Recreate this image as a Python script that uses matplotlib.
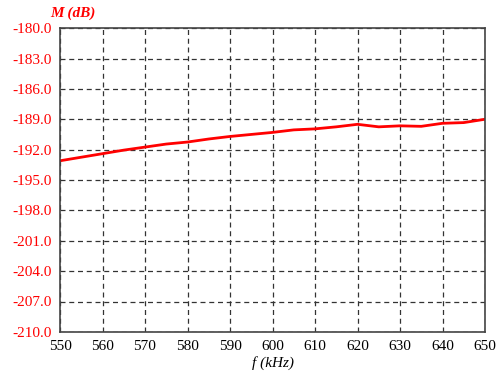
import matplotlib.pyplot as plt
import numpy as np

plt.rcParams['font.family'] = ['Liberation Serif', 'DejaVu Serif']

# frequency (kHz) and magnitude (dB)
f = [550, 555, 560, 565, 570, 575, 580, 585, 590, 595, 600, 605, 610, 615, 620, 625, 630, 635, 640, 645, 650]
M = [-193.1, -192.75, -192.4, -192.05, -191.75, -191.45, -191.25, -190.95, -190.7, -190.5, -190.3, -190.05,
     -189.95, -189.75, -189.5, -189.75, -189.65, -189.7, -189.4, -189.33, -189.0]

xticks = np.arange(550, 651, 10)
yticks = np.arange(-210, -179, 3)

fig = plt.figure(figsize=(5, 3.75), dpi=100)
ax = fig.add_axes([0.12, 0.115, 0.85, 0.81])

ax.plot(f, M, color='red', lw=2)

ax.set_xlim(550, 650)
ax.set_ylim(-210, -180)
ax.set_xticks(xticks)
ax.set_yticks(yticks)
ax.set_yticklabels(['%.1f' % v for v in yticks], color='red')
ax.tick_params(length=0, labelsize=11, pad=6)
ax.grid(True, ls=(0, (4, 3)), color='#333333', lw=0.9)
for s in ax.spines.values():
    s.set_color('#444444')
    s.set_linewidth(1.2)

ax.set_xlabel('f (kHz)', style='italic', fontsize=11, labelpad=2)
fig.text(0.1, 0.955, 'M (dB)', color='red', style='italic', weight='bold', fontsize=11)

plt.savefig('out.png')
